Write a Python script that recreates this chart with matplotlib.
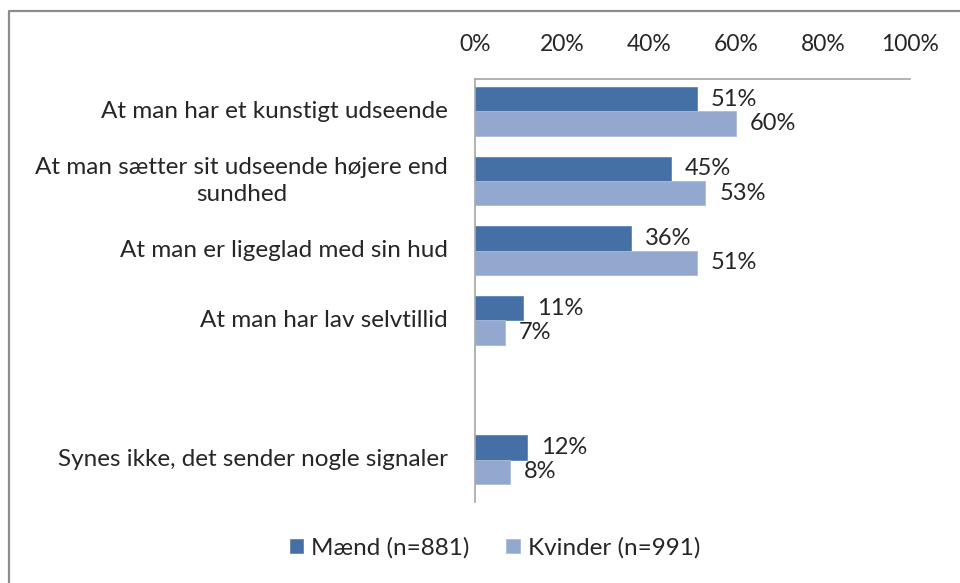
import matplotlib
matplotlib.use("Agg")
import matplotlib.pyplot as plt
from matplotlib.lines import Line2D
from matplotlib.ticker import PercentFormatter

# Data
categories = [
    "At man har et kunstigt udseende",
    "At man sætter sit udseende højere end\nsundhed",
    "At man er ligeglad med sin hud",
    "At man har lav selvtillid",
    "",
    "Synes ikke, det sender nogle signaler",
]
maend = [0.51, 0.45, 0.36, 0.11, None, 0.12]
kvinder = [0.60, 0.53, 0.51, 0.07, None, 0.08]
series_names = ["Mænd (n=881)", "Kvinder (n=991)"]
x_ticks = [0, 0.2, 0.4, 0.6, 0.8, 1.0]

dark_blue = "#4470A5"
light_blue = "#93A8CF"
text_color = "#262626"

plt.rcParams["font.family"] = ["Lato", "DejaVu Sans"]

fig = plt.figure(figsize=(9.6, 5.83), dpi=100)
ax = fig.add_axes([474.7 / 960, 1 - 502 / 583, (910 - 474.7) / 960, (502 - 79) / 583])

bar_h = 0.35
for i, (m, k) in enumerate(zip(maend, kvinder)):
    if m is None:
        continue
    ax.barh(i - bar_h / 2, m, height=bar_h, color=dark_blue,
            edgecolor="#5E86B8", linewidth=0.6,
            label=series_names[0] if i == 0 else None)
    ax.barh(i + bar_h / 2, k, height=bar_h, color=light_blue,
            edgecolor="#A9BBDB", linewidth=0.6,
            label=series_names[1] if i == 0 else None)
    for val, y in ((m, i - bar_h / 2), (k, i + bar_h / 2)):
        ax.annotate(f"{val:.0%}", (val, y), xytext=(14, 0),
                    textcoords="offset pixels", va="center", ha="left",
                    fontsize=17, color=text_color)

ax.set_xlim(0, 1)
ax.set_ylim(5.61, -0.464)
ax.set_xticks(x_ticks)
ax.xaxis.set_major_formatter(PercentFormatter(1.0, decimals=0))
ax.xaxis.tick_top()
ax.tick_params(axis="x", length=0, pad=17, labelsize=16.5, colors=text_color)

# category labels: right aligned block, lines centred among themselves
ax.set_yticks(range(len(categories)))
ax.set_yticklabels([])
ax.tick_params(axis="y", length=0)
for i, cat in enumerate(categories):
    ax.annotate(cat, (0, i), xycoords=ax.get_yaxis_transform(),
                xytext=(-27, 0), textcoords="offset pixels",
                ha="right", va="center", multialignment="center",
                fontsize=17.5, color=text_color, linespacing=1.4)

for side in ("right", "bottom"):
    ax.spines[side].set_visible(False)
for side in ("top", "left"):
    ax.spines[side].set_color("#A6A6A6")
    ax.spines[side].set_linewidth(1.2)

leg = fig.legend(loc="center", bbox_to_anchor=(495 / 960, 1 - 548 / 583),
                 ncol=2, frameon=False, fontsize=17.5, handlelength=0.55,
                 handleheight=0.55, handletextpad=0.35, columnspacing=1.5,
                 labelcolor=text_color)

# outer chart frame (top and left edges visible in the reference)
fig.add_artist(Line2D([8.5 / 960, 8.5 / 960, 1.0], [0.0, 1 - 11 / 583, 1 - 11 / 583],
                      transform=fig.transFigure, color="#8C8C8C", linewidth=1.6))

fig.savefig("out.png", dpi=100)
